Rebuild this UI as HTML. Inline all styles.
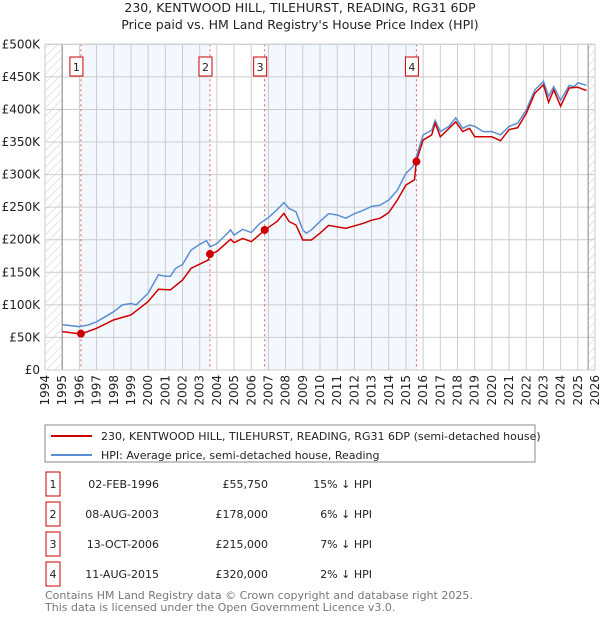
<!DOCTYPE html>
<html><head><meta charset="utf-8"><style>
body{margin:0;background:#fff;font-family:"DejaVu Sans","Liberation Sans",sans-serif;}
svg text{font-family:"DejaVu Sans","Liberation Sans",sans-serif;}
</style></head><body>
<svg id="c" width="600" height="620" xmlns="http://www.w3.org/2000/svg">
<defs><pattern id="hatch" width="6" height="6" patternUnits="userSpaceOnUse" patternTransform="rotate(45)"><line x1="0" y1="0" x2="0" y2="6" stroke="#ccc" stroke-width="1"/></pattern></defs>
<text x="300" y="12" text-anchor="middle" font-size="12.5" fill="#222">230, KENTWOOD HILL, TILEHURST, READING, RG31 6DP</text>
<text x="300" y="29" text-anchor="middle" font-size="12.5" fill="#222">Price paid vs. HM Land Registry's House Price Index (HPI)</text>
<g id="plot"></g>
<rect x="45" y="425" width="490" height="37" fill="#fff" stroke="#888"/>
<line x1="51" y1="436" x2="92" y2="436" stroke="#cc0000" stroke-width="2"/>
<text x="101" y="440" font-size="11" fill="#222">230, KENTWOOD HILL, TILEHURST, READING, RG31 6DP (semi-detached house)</text>
<line x1="51" y1="455" x2="92" y2="455" stroke="#5b8fd4" stroke-width="2"/>
<text x="101" y="459" font-size="11" fill="#222">HPI: Average price, semi-detached house, Reading</text>
<g id="table"></g>
<text x="45" y="599" font-size="11" fill="#777">Contains HM Land Registry data © Crown copyright and database right 2025.</text>
<text x="45" y="611" font-size="11" fill="#777">This data is licensed under the Open Government Licence v3.0.</text>
</svg>
<script>
const hpiYears=[1995,1996,1996.5,1997,1998,1998.5,1999,1999.3,2000,2000.6,2001,2001.3,2001.6,2002,2002.5,2003,2003.4,2003.6,2004,2004.5,2004.8,2005,2005.5,2006,2006.5,2007,2007.5,2007.9,2008.2,2008.6,2009,2009.2,2009.5,2010,2010.5,2011,2011.5,2012,2012.5,2013,2013.5,2014,2014.5,2015,2015.4,2015.6,2016,2016.5,2016.7,2017,2017.5,2017.9,2018.3,2018.7,2019,2019.5,2020,2020.5,2021,2021.5,2022,2022.5,2023,2023.3,2023.6,2024,2024.5,2024.8,2025,2025.5];
const hpiValues=[69.6,66.5,69,74,89.5,100,102,100,118,146,144,144,156,162,184,193,198.6,189,194,207,215,207,216,211,225,234,246,257,248,243,215,210,215,228,240,238,233,240,245,251,253,261,276,302,312,327,361,368,383,366,374,387,371,376,374,366,366,361,374,379,399,430,443,420,435,414,437,435,441,437];
const propYears=[1995,1996.1,1997,1998,1999,2000,2000.6,2001.3,2002,2002.5,2003.5,2003.6,2004,2004.8,2005,2005.5,2006,2006.8,2007.5,2007.9,2008.2,2008.6,2009,2009.5,2010,2010.5,2011.5,2012.5,2013,2013.5,2014,2014.5,2015,2015.5,2015.6,2016,2016.5,2016.7,2017,2017.9,2018.3,2018.7,2019,2019.5,2020,2020.5,2021,2021.5,2022,2022.5,2023,2023.3,2023.6,2024,2024.5,2025,2025.5];
const propValues=[58.9,55.3,64,77,84.5,105,124,123,138,156,169,178,182,200.6,195.5,202,197,215,228,240.5,228,222.6,199.6,199.6,210,222,217.5,225,230,233,241.6,261,284,292,320,353,361,379,358,381,366,371,358,358,358,352,369,372,394,425,438,411,430,405,433,434,429];
const saleLabels=["1","2","3","4"];
const saleYears=[1996.09,2003.6,2006.78,2015.61];
const saleValues=[55.75,178,215,320];
const saleDates=["02-FEB-1996","08-AUG-2003","13-OCT-2006","11-AUG-2015"];
const salePrices=["£55,750","£178,000","£215,000","£320,000"];
const saleDiffs=["15% ↓ HPI","6% ↓ HPI","7% ↓ HPI","2% ↓ HPI"];
const yTicks=[0,50,100,150,200,250,300,350,400,450,500];
const yTickLabels=["£0","£50K","£100K","£150K","£200K","£250K","£300K","£350K","£400K","£450K","£500K"];
const xTicks=[1994,1995,1996,1997,1998,1999,2000,2001,2002,2003,2004,2005,2006,2007,2008,2009,2010,2011,2012,2013,2014,2015,2016,2017,2018,2019,2020,2021,2022,2023,2024,2025,2026];

const X0=45,X1=595,Y0=370,Y1=44.3;
const xs=y=>X0+(y-1994)/32*(X1-X0);
const ys=v=>Y0-v/500*(Y0-Y1);
const NS="http://www.w3.org/2000/svg";
const plot=document.getElementById('plot');
function mk(tag,attrs,parent){const e=document.createElementNS(NS,tag);for(const k in attrs)e.setAttribute(k,attrs[k]);(parent||plot).appendChild(e);return e;}

let r=mk('rect',{x:X0,y:Y1,width:X1-X0,height:Y0-Y1,fill:'#fff'});


[[0,1],[2,3]].forEach(p=>{
  const s=mk('rect',{x:xs(saleYears[p[0]]),y:Y1,width:xs(saleYears[p[1]])-xs(saleYears[p[0]]),height:Y0-Y1,fill:'#eef3fd',opacity:0.7});
  
  
});
let h1=mk('rect',{x:X0,y:Y1,width:xs(1995)-X0,height:Y0-Y1,fill:'url(#hatch)'});


let h2=mk('rect',{x:xs(2025.6),y:Y1,width:X1-xs(2025.6),height:Y0-Y1,fill:'url(#hatch)'});


yTicks.forEach((t,i)=>{
  const l=mk('line',{x1:X0,x2:X1,y1:ys(t),y2:ys(t),stroke:'#ccc','stroke-width':1});
  
  
  const tx=mk('text',{x:40,y:ys(t)+4,'text-anchor':'end','font-size':12,fill:'#222'});
  tx.textContent=yTickLabels[i];
  
  
});
xTicks.forEach(t=>{
  const l=mk('line',{x1:xs(t),x2:xs(t),y1:Y1,y2:Y0,stroke:'#ccc','stroke-width':1});
  
  
  const tx=mk('text',{x:0,y:0,'text-anchor':'end','font-size':12,fill:'#222',transform:`translate(${xs(t)+4},375) rotate(-90)`});
  tx.textContent=t;
  
  
});
let bl=mk('line',{x1:xs(1995),x2:xs(1995),y1:Y1,y2:Y0,stroke:'#888'});


let el=mk('line',{x1:xs(2025.6),x2:xs(2025.6),y1:Y1,y2:Y0,stroke:'#888'});


saleYears.forEach((y,i)=>{
  const l=mk('line',{x1:xs(y),x2:xs(y),y1:Y1,y2:Y0,stroke:'#e06060','stroke-dasharray':'2,3'});
  
  
  const b=mk('rect',{x:xs(y)-11,y:57,width:13,height:19,fill:'#fff',stroke:'#cc0000'});
  
  
  const t=mk('text',{x:xs(y)-4.5,y:71,'text-anchor':'middle','font-size':11,fill:'#222'});
  t.textContent=saleLabels[i];
  
  
});
const hp=mk('polyline',{points:hpiYears.map((y,i)=>xs(y)+','+ys(hpiValues[i])).join(' '),fill:'none',stroke:'#5b8fd4','stroke-width':1.5});


const pp=mk('polyline',{points:propYears.map((y,i)=>xs(y)+','+ys(propValues[i])).join(' '),fill:'none',stroke:'#cc0000','stroke-width':1.5});


saleYears.forEach((y,i)=>{
  const c=mk('circle',{cx:xs(y),cy:ys(saleValues[i]),r:4,fill:'#cc0000'});
  
  
});
let fr=mk('rect',{x:X0,y:Y1,width:X1-X0,height:Y0-Y1,fill:'none',stroke:'#ccc'});



const tb=document.getElementById('table');
saleLabels.forEach((s,i)=>{
  const cy=484+i*30;
  const b=mk('rect',{x:46,y:cy-12,width:14,height:24,fill:'#fff',stroke:'#cc0000'},tb);
  
  
  const cells=[[53,'middle',s,'table-row-number'],[159,'end',saleDates[i],'table-date'],[268,'end',salePrices[i],'table-price'],[372,'end',saleDiffs[i],'table-hpi-diff']];
  cells.forEach(c=>{
    const t=mk('text',{x:c[0],y:cy+4,'text-anchor':c[1],'font-size':11,fill:'#222'},tb);
    t.textContent=c[2];
    
    
  });
});
</script>
</body></html>
